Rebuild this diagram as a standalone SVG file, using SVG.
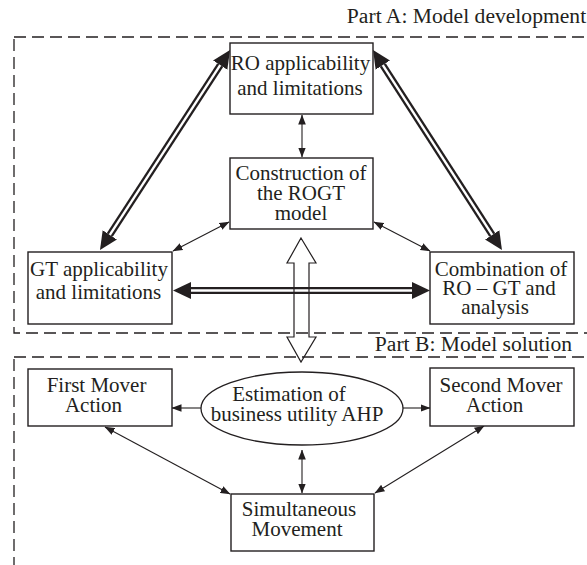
<svg xmlns="http://www.w3.org/2000/svg" width="587" height="565" viewBox="0 0 587 565">
<style>
text{font-family:"Liberation Serif","Times New Roman",serif;font-size:21px;fill:#231f20;text-anchor:middle}
.lbl{font-size:21.6px}
.box{fill:#fff;stroke:#231f20;stroke-width:1.4}
.dash{fill:none;stroke:#231f20;stroke-width:1.3;stroke-dasharray:12 6}
.thin{fill:none;stroke:#231f20;stroke-width:1.1}
.thickB{fill:none;stroke:#231f20;stroke-width:7}
.thickW{fill:none;stroke:#fff;stroke-width:2.4}
.hollow{fill:none;stroke:#231f20;stroke-width:1.2;stroke-linejoin:miter}
</style>
<defs>
<marker id="sm" viewBox="0 -4 10 8" refX="9.5" refY="0" markerWidth="10" markerHeight="8" markerUnits="userSpaceOnUse" orient="auto-start-reverse"><path d="M0,-3.8 L10,0 L0,3.8 z" fill="#231f20"/></marker>
<marker id="big" viewBox="0 -9 20 18" refX="0" refY="0" markerWidth="20" markerHeight="18" markerUnits="userSpaceOnUse" orient="auto-start-reverse"><path d="M0,-8.5 L18,0 L0,8.5 z" fill="#231f20"/></marker>
</defs>
<rect class="dash" x="14" y="37" width="620" height="296"/>
<rect class="dash" x="14" y="357" width="620" height="260"/>
<text class="lbl" x="466.5" y="23">Part A: Model development</text>
<text class="lbl" x="473.5" y="351">Part B: Model solution</text>
<g id="connectors">
<path class="thickB" d="M220.2,65.1 L109.8,234.9" marker-start="url(#big)" marker-end="url(#big)"/>
<path class="thickW" d="M220.2,65.1 L109.8,234.9"/>
<path class="thickB" d="M382.8,65.1 L492.2,234.9" marker-start="url(#big)" marker-end="url(#big)"/>
<path class="thickW" d="M382.8,65.1 L492.2,234.9"/>
<path class="thickB" d="M191,290.5 L412,290.5" marker-start="url(#big)" marker-end="url(#big)"/>
<path class="thickW" d="M191,290.5 L412,290.5"/>
<path class="hollow" d="M301,238 L316,263 L309,263 L309,337 L316,337 L301,362 L287,337 L294,337 L294,263 L287,263 Z"/>
<path class="thin" d="M302,115 L302,157" marker-start="url(#sm)" marker-end="url(#sm)"/>
<path class="thin" d="M229,222 L173,251" marker-start="url(#sm)" marker-end="url(#sm)"/>
<path class="thin" d="M374,222 L430,251" marker-start="url(#sm)" marker-end="url(#sm)"/>
<path class="thin" d="M201,408 L172,408" marker-end="url(#sm)"/>
<path class="thin" d="M403,408 L430,408" marker-end="url(#sm)"/>
<path class="thin" d="M302,450 L302,493" marker-start="url(#sm)" marker-end="url(#sm)"/>
<path class="thin" d="M105,427 L230,494" marker-start="url(#sm)" marker-end="url(#sm)"/>
<path class="thin" d="M484,426 L375,493" marker-start="url(#sm)" marker-end="url(#sm)"/>
</g>
<g id="ro">
<rect class="box" x="230" y="43" width="143" height="71"/>
<text x="300.5" y="70">RO applicability</text>
<text x="300" y="95">and limitations</text>
</g>
<g id="construction">
<rect class="box" x="230" y="158" width="143" height="71"/>
<text x="301" y="180">Construction of</text>
<text x="301" y="200">the ROGT</text>
<text x="301" y="220">model</text>
</g>
<g id="gt">
<rect class="box" x="28" y="252" width="144" height="72"/>
<text x="99" y="276">GT applicability</text>
<text x="98.5" y="299">and limitations</text>
</g>
<g id="combination">
<rect class="box" x="430" y="252" width="144" height="72"/>
<text x="501" y="276">Combination of</text>
<text x="499" y="295">RO – GT and</text>
<text x="495" y="314">analysis</text>
</g>
<g id="first">
<rect class="box" x="28" y="369" width="144" height="57"/>
<text x="96.5" y="392">First Mover</text>
<text x="93.5" y="412">Action</text>
</g>
<g id="second">
<rect class="box" x="430" y="368" width="144" height="58"/>
<text x="501" y="392">Second Mover</text>
<text x="494.6" y="412">Action</text>
</g>
<g id="estimation">
<ellipse cx="302" cy="408.5" rx="101" ry="36.5" fill="#fff" stroke="#231f20" stroke-width="1.3"/>
<text x="289" y="401">Estimation of</text>
<text x="297" y="421">business utility AHP</text>
</g>
<g id="simultaneous">
<rect class="box" x="231" y="494" width="143" height="57"/>
<text x="299" y="516">Simultaneous</text>
<text x="297" y="536">Movement</text>
</g>
</svg>
